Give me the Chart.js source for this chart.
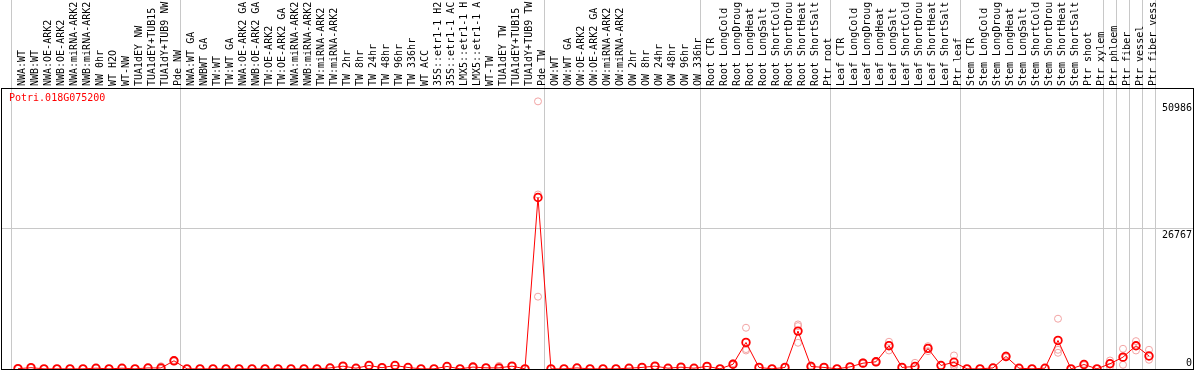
<!DOCTYPE html>
<html>
<head>
<meta charset="utf-8">
<script src="https://cdn.jsdelivr.net/npm/chart.js@4.4.1/dist/chart.umd.min.js"></script>
<style>
  html, body { margin: 0; padding: 0; background: #fff; overflow: hidden; }
</style>
</head>
<body>
<canvas id="chart" width="1194" height="370"></canvas>
<script>
const geneId = 'Potri.018G075200';

const labels = [
  'NWA:WT', 'NWB:WT', 'NWA:OE-ARK2', 'NWB:OE-ARK2', 'NWA:miRNA-ARK2', 'NWB:miRNA-ARK2',
  'NW 0hr', 'WT H2O', 'WT-NW', 'TUA1dEY NW', 'TUA1dEY+TUB15', 'TUA1dY+TUB9 NW', 'Pde NW',
  'NWA:WT GA', 'NWBWT GA', 'TW:WT', 'TW:WT GA', 'NWA:OE-ARK2 GA', 'NWB:OE-ARK2 GA',
  'TW:OE-ARK2', 'TW:OE-ARK2 GA', 'NWA:miRNA-ARK2', 'NWB:miRNA-ARK2', 'TW:miRNA-ARK2',
  'TW:miRNA-ARK2', 'TW 2hr', 'TW 8hr', 'TW 24hr', 'TW 48hr', 'TW 96hr', 'TW 336hr',
  'WT ACC', '35S::etr1-1 H2', '35S::etr1-1 AC', 'LMX5::etr1-1 H', 'LMX5::etr1-1 A',
  'WT-TW', 'TUA1dEY TW', 'TUA1dEY+TUB15', 'TUA1dY+TUB9 TW', 'Pde TW',
  'OW:WT', 'OW:WT GA', 'OW:OE-ARK2', 'OW:OE-ARK2 GA', 'OW:miRNA-ARK2', 'OW:miRNA-ARK2',
  'OW 2hr', 'OW 8hr', 'OW 24hr', 'OW 48hr', 'OW 96hr', 'OW 336hr',
  'Root CTR', 'Root LongCold', 'Root LongDroug', 'Root LongHeat', 'Root LongSalt',
  'Root ShortCold', 'Root ShortDrou', 'Root ShortHeat', 'Root ShortSalt', 'Ptr root',
  'Leaf CTR', 'Leaf LongCold', 'Leaf LongDroug', 'Leaf LongHeat', 'Leaf LongSalt',
  'Leaf ShortCold', 'Leaf ShortDrou', 'Leaf ShortHeat', 'Leaf ShortSalt', 'Ptr leaf',
  'Stem CTR', 'Stem LongCold', 'Stem LongDroug', 'Stem LongHeat', 'Stem LongSalt',
  'Stem ShortCold', 'Stem ShortDrou', 'Stem ShortHeat', 'Stem ShortSalt', 'Ptr shoot',
  'Ptr xylem', 'Ptr phloem', 'Ptr fiber', 'Ptr vessel', 'Ptr fiber vess'
];

// mean expression per sample
const means = [
  60, 250, 30, 30, 30, 30, 150, 30, 150, 30, 200, 200, 1560,
  30, 30, 30, 30, 30, 30, 30, 30, 30, 30, 30, 200, 540, 150, 670, 250, 670, 290, 30, 30, 480, 30, 370, 220, 220, 540, 30, 32673,
  30, 30, 200, 30, 30, 30, 150, 300, 550, 150, 350, 150,
  500, 30, 900, 5060, 300, 30, 300, 7220, 480, 300,
  30, 400, 1110, 1370, 4440, 300, 480, 3920, 670, 1290,
  30, 30, 200, 2390, 150, 30, 150, 5440, 30, 860, 30,
  1000, 2260, 4420, 2480
];

// individual replicates
const rep1 = [
  80, 300, 40, 40, 40, 40, 200, 40, 200, 40, 250, 530, 1700,
  40, 40, 40, 40, 40, 40, 40, 40, 40, 40, 40, 240, 600, 180, 700, 300, 700, 320, 40, 40, 520, 40, 400, 260, 600, 560, 40, 50986,
  40, 40, 240, 40, 40, 40, 180, 340, 600, 180, 380, 180,
  560, 40, 1100, 7860, 340, 40, 340, 8490, 700, 340,
  40, 440, 1300, 1500, 5190, 340, 1180, 4350, 700, 2580,
  40, 40, 240, 2600, 180, 40, 180, 9580, 40, 1000, 40,
  1620, 3850, 5310, 3660
];
const rep2 = [
  40, 200, 20, 20, 20, 20, 120, 20, 120, 20, 150, 40, 1450,
  20, 20, 20, 20, 20, 20, 20, 20, 20, 20, 20, 160, 500, 120, 640, 200, 640, 260, 20, 20, 440, 20, 340, 180, 30, 520, 20, 13780,
  20, 20, 160, 20, 20, 20, 120, 260, 500, 120, 320, 120,
  440, 20, 800, 3530, 260, 20, 260, 5000, 300, 260,
  20, 360, 1000, 1250, 3530, 260, 150, 3400, 640, 500,
  20, 20, 160, 2200, 120, 20, 120, 3090, 20, 720, 20,
  400, 800, 3530, 1760
];
const rep3 = [
  60, 250, 30, 30, 30, 30, 150, 30, 150, 30, 200, 30, 1560,
  30, 30, 30, 30, 30, 30, 30, 30, 30, 30, 30, 200, 540, 150, 670, 250, 670, 290, 30, 30, 480, 30, 370, 220, 30, 540, 30, 33253,
  30, 30, 200, 30, 30, 30, 150, 300, 550, 150, 350, 150,
  500, 30, 800, 3800, 300, 30, 300, 8170, 450, 300,
  30, 400, 1050, 1370, 4600, 300, 100, 4000, 670, 800,
  30, 30, 200, 2390, 150, 30, 150, 3660, 30, 860, 30,
  990, 2140, 4430, 2440
];

// separators between sample groups (between category indices)
const groupEdges = [-0.5, 12.5, 40.5, 52.5, 62.5, 72.5, 83.5, 84.5, 85.5, 86.5, 87.5];
const maxValue = 50986;
const yMax = 53534;
const yTicks = [0, 26767, yMax];
const valueLabels = [maxValue, 26767, 0];

const monoFont = '"DejaVu Sans Mono", "Liberation Mono", monospace';
const pale = '#f2a3a3';

const toPoints = arr => arr.map((v, i) => ({ x: i, y: v }));

const repStyle = {
  showLine: false,
  pointStyle: 'circle',
  pointRadius: 3.5,
  pointBorderWidth: 1,
  pointBorderColor: pale,
  pointBackgroundColor: 'rgba(0,0,0,0)',
  borderColor: pale,
  order: 2
};

const overlayText = {
  id: 'overlayText',
  afterDraw(chart) {
    const { ctx, chartArea, scales } = chart;
    ctx.save();
    ctx.font = '10px ' + monoFont;
    ctx.textBaseline = 'alphabetic';
    ctx.fillStyle = '#ff0000';
    ctx.textAlign = 'left';
    ctx.fillText(geneId, 9, 101);
    ctx.fillStyle = '#000';
    ctx.textAlign = 'right';
    valueLabels.forEach(v => {
      const y = scales.y.getPixelForValue(v);
      ctx.fillText(String(v), chartArea.right - 1, v === 0 ? y - 3 : y + 9.5);
    });
    ctx.restore();
  }
};

new Chart(document.getElementById('chart'), {
  type: 'line',
  data: {
    datasets: [
      {
        label: 'mean',
        data: toPoints(means),
        borderColor: '#ff0000',
        borderWidth: 1,
        tension: 0,
        pointStyle: 'circle',
        pointRadius: 3.8,
        pointBorderWidth: 1.8,
        pointBorderColor: '#ff0000',
        pointBackgroundColor: 'rgba(0,0,0,0)',
        order: 1
      },
      { label: 'rep1', data: toPoints(rep1), ...repStyle },
      { label: 'rep2', data: toPoints(rep2), ...repStyle },
      { label: 'rep3', data: toPoints(rep3), ...repStyle }
    ]
  },
  options: {
    responsive: false,
    animation: false,
    devicePixelRatio: 1,
    layout: { autoPadding: false, padding: { left: 0, right: 0, top: 0, bottom: 1 } },
    plugins: {
      legend: { display: false },
      tooltip: { enabled: false }
    },
    scales: {
      x: {
        type: 'linear',
        position: 'top',
        min: -1.3077,
        max: 90.385,
        afterBuildTicks: scale => {
          const vals = labels.map((_, i) => i).concat(groupEdges).sort((a, b) => a - b);
          scale.ticks = vals.map(v => ({ value: v }));
        },
        afterFit: scale => { scale.height = 88; },
        ticks: {
          autoSkip: false,
          minRotation: 90,
          maxRotation: 90,
          padding: -86,
          labelOffset: 16,
          color: '#000',
          font: { family: monoFont, size: 10 },
          callback: v => Number.isInteger(v) ? labels[v] : ''
        },
        grid: {
          drawTicks: true,
          tickLength: 88,
          lineWidth: 1,
          color: c => (c.tick && !Number.isInteger(c.tick.value)) ? '#c8c8c8' : 'rgba(0,0,0,0)'
        },
        border: { display: true, color: '#000', width: 1 }
      },
      y: {
        type: 'linear',
        position: 'right',
        min: 0,
        max: yMax,
        afterBuildTicks: scale => { scale.ticks = yTicks.map(v => ({ value: v })); },
        afterFit: scale => { scale.width = 1; },
        ticks: { display: false },
        grid: {
          drawTicks: false,
          lineWidth: 1,
          color: c => (c.tick && c.tick.value === 26767) ? '#c8c8c8' : '#000'
        },
        border: { display: true, color: '#000', width: 1 }
      },
      yLeft: {
        type: 'linear',
        position: 'left',
        min: 0,
        max: yMax,
        afterFit: scale => { scale.width = 1; },
        ticks: { display: false },
        grid: { drawTicks: false, drawOnChartArea: false },
        border: { display: true, color: '#000', width: 1 }
      }
    }
  },
  plugins: [overlayText]
});
</script>
</body>
</html>
